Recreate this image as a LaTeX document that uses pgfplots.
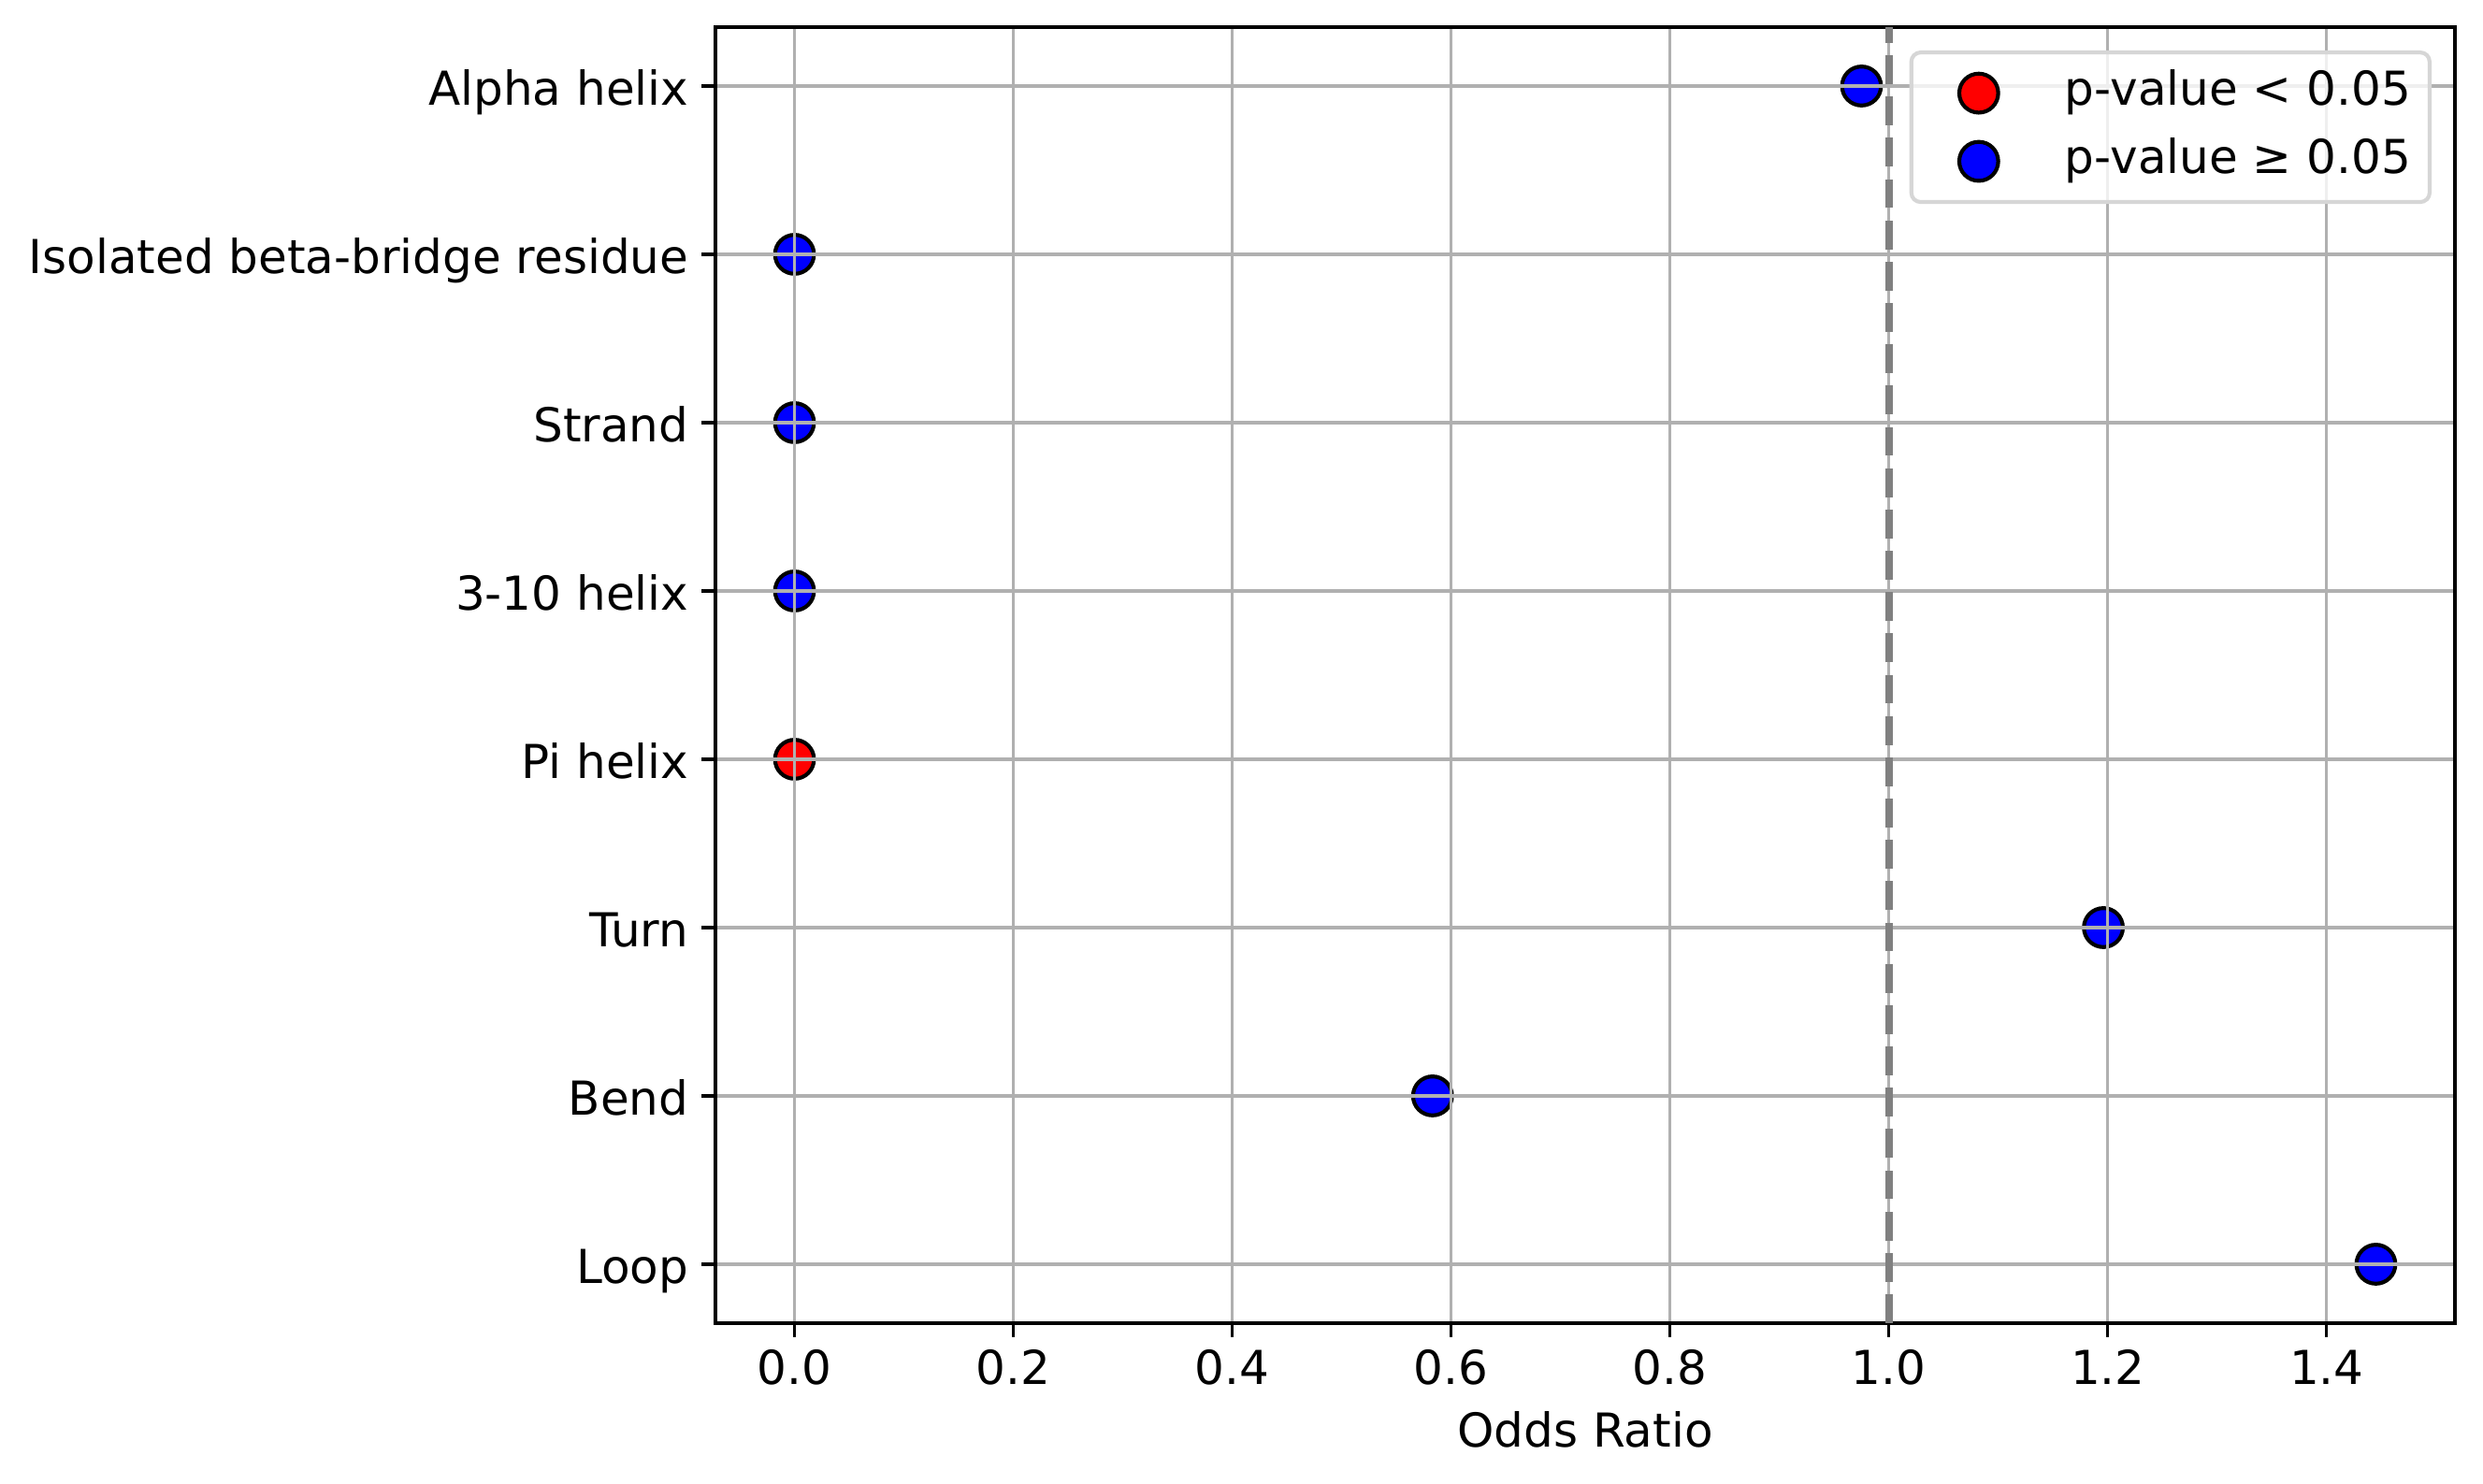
\documentclass[border=0pt]{standalone}
\usepackage{fontspec}
\setmainfont{DejaVu Sans}
\usepackage{pgfplots}
\pgfplotsset{compat=1.18}
\definecolor{gridgray}{HTML}{B0B0B0}
\definecolor{dashgray}{HTML}{808080}
\definecolor{legframe}{HTML}{D6D6D6}
\pgfplotsset{
  layers/mylayers/.define layer set={axis background,main,axis grid,axis ticks,axis lines,axis tick labels,top plots,axis descriptions,axis foreground}{
    grid style={/pgfplots/on layer=axis grid},
    tick style={/pgfplots/on layer=axis ticks},
    axis line style={/pgfplots/on layer=axis lines},
    label style={/pgfplots/on layer=axis descriptions},
    legend style={/pgfplots/on layer=axis descriptions},
    title style={/pgfplots/on layer=axis descriptions},
    ticklabel style={/pgfplots/on layer=axis tick labels},
  },
  dot/.style={only marks, mark=*, mark size=5pt, mark options={line width=1pt, draw=black, fill=#1}},
}
\begin{document}
\begin{tikzpicture}
\begin{axis}[
  set layers=mylayers,
  scale only axis, width=446.4pt, height=332.64pt,
  xmin=-0.07225, xmax=1.51725, ymin=-0.35, ymax=7.35,
  xtick={0,0.2,0.4,0.6,0.8,1.0,1.2,1.4},
  ytick={0,1,2,3,4,5,6,7},
  yticklabels={Loop,Bend,Turn,Pi helix,3-10 helix,Strand,Isolated beta-bridge residue,Alpha helix},
  /pgf/number format/assume math mode=true,
  tick pos=left,
  tick align=outside, major tick length=3.5pt,
  tick style={black, line width=0.8pt},
  axis line style={line width=0.8pt},
  grid=major, grid style={gridgray, line width=0.8pt},
  ticklabel style={font=\fontsize{12}{14.4}\selectfont},
  xticklabel style={anchor=base, inner sep=0pt, yshift=-12.32pt,
    /pgf/number format/fixed, /pgf/number format/fixed zerofill, /pgf/number format/precision=1},
  yticklabel style={anchor=base east, inner sep=0pt, xshift=-3.2pt, yshift=-4.9pt},
  xlabel={Odds Ratio},
  xlabel style={font=\fontsize{12}{14.4}\selectfont, at={(axis description cs:0.5,0)}, anchor=base, inner sep=0pt, yshift=-31.92pt},
  legend cell align=left,
  legend style={at={(axis description cs:1,1)}, anchor=north east, xshift=-6pt, yshift=-6pt,
    draw=legframe, line width=1pt, rounded corners=2.4pt, fill=white, fill opacity=0.8, text opacity=1,
    font=\fontsize{12}{14.4}\selectfont, inner xsep=4.8pt, inner ysep=4.5pt,
    nodes={inner sep=0pt, text height=9.1pt, text depth=2.8pt},
    row sep=5.6pt, /tikz/every odd column/.append style={column sep=9.6pt}},
  legend image code/.code={\path (0pt,0pt) (24pt,0pt);\draw[mark repeat=2,mark phase=2,fill opacity=1,#1] plot coordinates {(0pt,0pt) (12pt,0pt) (24pt,0pt)};},
]
\addplot[dot=red] coordinates {(0,3)};
\addlegendentry{p-value < 0.05}
\addplot[dot=blue] coordinates {(0.975,7) (0,6) (0,5) (0,4) (1.196,2) (0.583,1) (1.445,0)};
\addlegendentry{p-value ≥ 0.05}
\addplot[dashgray, line width=2pt, dash pattern=on 7.4pt off 3.2pt, on layer=top plots, forget plot] coordinates {(1,-0.35) (1,7.35)};
\end{axis}
\pgfresetboundingbox
\path[use as bounding box] ([xshift=-183.6pt,yshift=-41.28pt]current axis.south west) rectangle ([xshift=7.2pt,yshift=6.96pt]current axis.north east);
\end{tikzpicture}
\end{document}
